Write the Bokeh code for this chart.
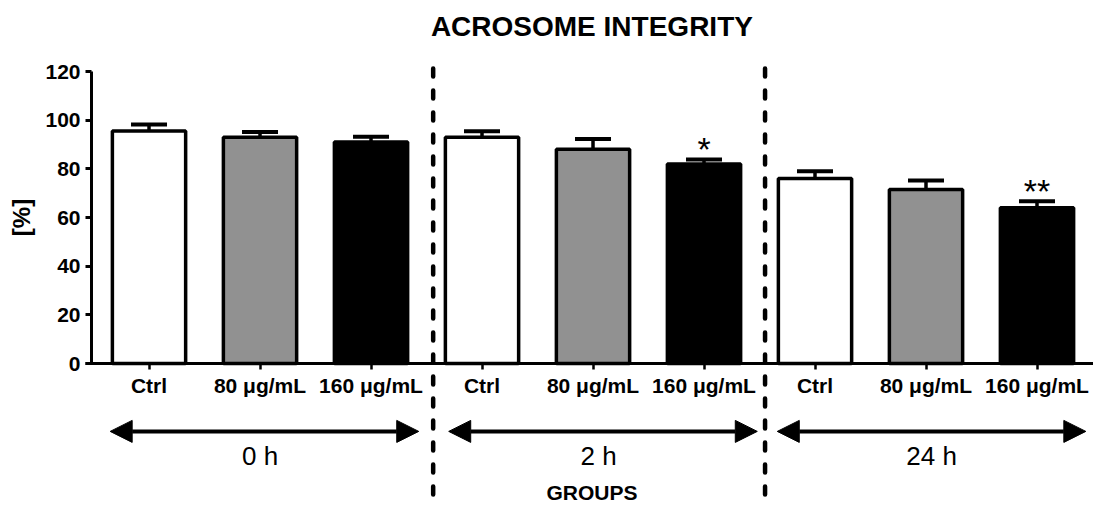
import math
from bokeh.plotting import figure
from bokeh.models import (Range1d, FixedTicker, Arrow, NormalHead, Whisker,
                          TeeHead, ColumnDataSource, CanvasTexture, LinearAxis)
from bokeh.core.properties import value
from bokeh.embed import file_html
from bokeh.resources import INLINE

# ---- data ----
categories = ["Ctrl", "80 μg/mL", "160 μg/mL"] * 3
time_points = ["0 h", "2 h", "24 h"]
means = [95.5, 93.0, 91.0, 93.0, 88.0, 82.0, 76.0, 71.5, 64.0]
sems = [2.7, 2.1, 2.2, 2.4, 4.3, 1.8, 3.0, 3.7, 2.7]
signif = ["", "", "", "", "", "*", "", "", "**"]
y_ticks = [0, 20, 40, 60, 80, 100, 120]

# ---- styles / layout ----
fills = ["white", "white", "black"] * 3
hatches = [" ", "checker", " "] * 3
FONT = "Liberation Sans"
separators = [2.56, 5.55]
sep_top, sep_bottom = 121.2, -58.4
arrow_centers = [1.04, 4.09, 7.05]
arrow_half = 1.39
arrow_y = -27.9
time_label_x = [1.0, 4.05, 7.05]

idx = list(range(len(categories)))
upper = [m + s for m, s in zip(means, sems)]
star_y = [u + 4.3 for u in upper]

src = ColumnDataSource(dict(x=idx, top=means, upper=upper, fill=fills,
                            hatch=hatches, sig=signif, star_y=star_y))

p = figure(width=1093, height=511, x_range=Range1d(-1.338, 8.509),
           y_range=Range1d(-60.82, 149.18), output_backend="svg",
           toolbar_location=None, x_axis_location=None, y_axis_location=None,
           min_border=0)
p.grid.visible = False
p.outline_line_color = None
p.background_fill_color = "white"

# y axis (drawn at the left edge of the data area)
ya = LinearAxis(fixed_location=-0.518, bounds=(0, 120),
                ticker=FixedTicker(ticks=y_ticks))
ya.major_label_text_font = FONT
ya.major_label_text_font_size = "21px"
ya.major_label_text_font_style = "bold"
ya.major_label_text_color = "black"
ya.major_label_standoff = 5
ya.axis_line_width = 3
ya.major_tick_line_width = 3
ya.major_tick_out = 6
ya.major_tick_in = 0
ya.minor_tick_line_color = None
p.add_layout(ya, "left")

# x axis at y = 0
xa = LinearAxis(fixed_location=0, bounds=(-0.57, 8.509),
                ticker=FixedTicker(ticks=idx),
                major_label_overrides={i: c for i, c in enumerate(categories)})
xa.major_label_text_font = FONT
xa.major_label_text_font_size = "21px"
xa.major_label_text_font_style = "bold"
xa.major_label_text_color = "black"
xa.major_label_standoff = 4
xa.axis_line_width = 3
xa.major_tick_line_width = 2.5
xa.major_tick_out = 6
xa.major_tick_in = 0
xa.minor_tick_line_color = None
p.add_layout(xa, "below")

checker = CanvasTexture(code="""
ctx.fillStyle = color;
const s = scale / 2;
ctx.fillRect(0, 0, s, s);
ctx.fillRect(s, s, s, s);
""")

# bars
p.vbar(x="x", top="top", bottom=0, width=0.66, source=src, fill_color="fill",
       line_color="black", line_width=3.5, hatch_pattern="hatch",
       hatch_color="black", hatch_scale=6, hatch_weight=1,
       hatch_extra={"checker": checker})

# error bars (upper only)
p.add_layout(Whisker(base="x", lower="top", upper="upper", source=src,
                     line_width=3.5, line_color="black", lower_head=None,
                     upper_head=TeeHead(size=36, line_width=4, line_color="black")))

# significance marks
p.text(x="x", y="star_y", text="sig", source=src, text_align="center",
       text_baseline="alphabetic", text_font=value(FONT),
       text_font_size="34px", text_color="black")

# group separators (dashes start at the top)
p.segment(x0=separators, y0=[sep_top] * 2, x1=separators,
          y1=[sep_bottom] * 2, line_width=4.5, line_color="black",
          line_dash="8 14", line_cap="round")

# time arrows
for c in arrow_centers:
    p.add_layout(Arrow(x_start=c - arrow_half, y_start=arrow_y,
                       x_end=c + arrow_half, y_end=arrow_y, line_width=4,
                       line_color="black",
                       start=NormalHead(size=22, fill_color="black", line_color="black"),
                       end=NormalHead(size=22, fill_color="black", line_color="black")))

p.text(x=time_label_x, y=[-38.2] * 3, text=time_points, text_align="center",
       text_baseline="alphabetic", text_font=value(FONT),
       text_font_size="26px", text_color="black")

# titles
p.text(x=[3.99], y=[138.7], text=["ACROSOME INTEGRITY"], text_align="center",
       text_baseline="middle", text_font=value(FONT), text_font_size="28px",
       text_font_style="bold", text_color="black")
p.text(x=[3.99], y=[-53.0], text=["GROUPS"], text_align="center",
       text_baseline="middle", text_font=value(FONT), text_font_size="21px",
       text_font_style="bold", text_color="black")
p.text(x=[-1.149], y=[60.0], text=["[%]"], angle=math.pi / 2,
       text_align="center", text_baseline="middle", text_font=value(FONT),
       text_font_size="24px", text_font_style="bold", text_color="black")

open("out.html", "w").write(file_html(p, INLINE))
